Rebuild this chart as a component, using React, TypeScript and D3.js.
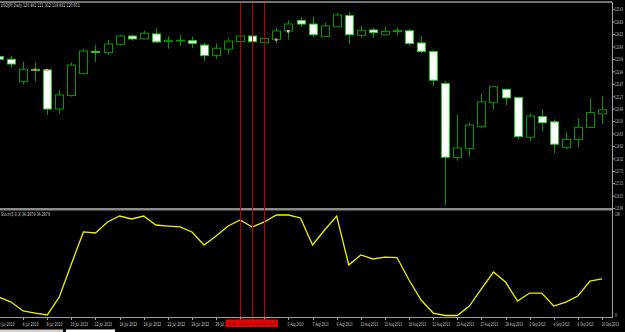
import React from 'react';
import * as d3 from 'd3';

const dates = [
  '2 Jul 2013', '3 Jul 2013', '4 Jul 2013', '5 Jul 2013', '8 Jul 2013', '9 Jul 2013', '10 Jul 2013',
  '11 Jul 2013', '12 Jul 2013', '15 Jul 2013', '16 Jul 2013', '17 Jul 2013', '18 Jul 2013', '19 Jul 2013',
  '22 Jul 2013', '23 Jul 2013', '24 Jul 2013', '25 Jul 2013', '26 Jul 2013', '29 Jul 2013', '30 Jul 2013',
  '31 Jul 2013', '1 Aug 2013', '2 Aug 2013', '5 Aug 2013', '6 Aug 2013', '7 Aug 2013', '8 Aug 2013',
  '9 Aug 2013', '12 Aug 2013', '13 Aug 2013', '14 Aug 2013', '15 Aug 2013', '16 Aug 2013', '19 Aug 2013',
  '20 Aug 2013', '21 Aug 2013', '22 Aug 2013', '23 Aug 2013', '26 Aug 2013', '27 Aug 2013', '28 Aug 2013',
  '29 Aug 2013', '30 Aug 2013', '2 Sep 2013', '3 Sep 2013', '4 Sep 2013', '5 Sep 2013', '6 Sep 2013',
  '9 Sep 2013', '10 Sep 2013',
];

const opens = [
  123.19, 123.05, 121.99, 122.57, 122.55, 120.69, 121.33, 122.37, 123.43, 123.37,
  123.75, 124.16, 124.02, 124.26, 123.90, 123.93, 123.94, 123.73, 123.23, 123.54,
  123.89, 124.16, 123.84, 124.00, 124.40, 124.90, 124.73, 124.13, 124.60, 125.13,
  124.19, 124.45, 124.22, 124.37, 124.41, 123.83, 123.42, 121.90, 118.38, 118.81,
  119.85, 120.99, 121.63, 121.23, 119.35, 120.33, 120.08, 118.87, 119.25, 119.82,
  120.46,
];
const highs = [
  123.26, 123.21, 122.94, 122.91, 122.57, 121.60, 122.91, 123.54, 123.73, 123.97,
  124.22, 124.22, 124.41, 124.54, 124.16, 124.21, 124.13, 123.84, 123.81, 124.05,
  124.21, 124.21, 124.10, 124.54, 124.92, 125.06, 125.08, 124.79, 125.24, 125.30,
  124.64, 124.56, 124.60, 124.56, 124.48, 124.16, 123.50, 122.02, 120.41, 120.04,
  121.41, 121.79, 121.64, 121.28, 120.49, 120.69, 120.17, 119.59, 120.25, 121.22,
  121.31,
];
const lows = [
  122.97, 122.64, 121.87, 121.99, 120.41, 120.46, 121.28, 122.37, 122.93, 123.26,
  123.70, 123.94, 124.00, 123.85, 123.56, 123.69, 123.58, 122.99, 123.07, 123.31,
  123.86, 123.86, 123.83, 123.81, 124.00, 124.59, 124.10, 124.13, 124.60, 123.78,
  124.08, 124.08, 124.22, 124.19, 123.70, 123.34, 121.80, 116.13, 118.24, 118.43,
  119.78, 120.65, 120.88, 119.25, 119.19, 119.62, 118.59, 118.79, 118.86, 119.82,
  119.98,
];
const closes = [
  123.05, 122.83, 122.58, 122.53, 120.69, 121.36, 122.78, 123.45, 123.38, 123.78,
  124.16, 124.02, 124.29, 123.88, 123.96, 123.96, 123.81, 123.23, 123.58, 123.92,
  124.16, 123.89, 124.05, 124.40, 124.73, 124.73, 124.22, 124.64, 125.16, 124.22,
  124.43, 124.32, 124.38, 124.42, 123.80, 123.42, 122.06, 118.40, 118.84, 119.93,
  121.03, 121.75, 121.22, 119.38, 120.36, 120.04, 119.02, 119.25, 119.82, 120.52,
  120.65,
];

const stochMain = [
  18.6, 13.7, 4.9, 2.9, 1.0, 18.6, 51.0, 82.4, 81.4, 92.2,
  98.0, 95.1, 98.0, 89.2, 88.2, 87.3, 82.4, 69.6, 78.4, 88.2,
  94.1, 87.3, 92.2, 99.0, 99.0, 96.1, 69.6, 84.3, 98.0, 50.0,
  59.8, 55.9, 57.8, 57.3, 35.3, 15.7, 2.9, 0.5, 0.5, 9.8,
  26.5, 43.1, 33.3, 14.7, 22.5, 22.5, 9.8, 13.7, 19.6, 34.3,
  36.3,
];

const priceTicks = [
  125.43, 124.83, 124.23, 123.64, 123.04, 122.46, 121.87, 121.27, 120.69,
  120.10, 119.50, 118.92, 118.32, 117.73, 117.15, 116.55, 115.96,
];
const stochTicks = ['100', '0'];

const vlineDates = ['30 Jul 2013', '31 Jul 2013', '1 Aug 2013'];
const vlineLabels = ['30 Jul 2013 00:00', '31 Jul 2013 00:00', '1 Aug 2013 00:00'];

const markerDates = ['5 Jul 2013', '8 Jul 2013', '2 Aug 2013', '5 Aug 2013'];
const markerPrices = [122.57, 122.55, 124.00, 124.40];
const markerColors = ['#ff6f8f', '#ffb060', '#ff7fa0', '#ffc0d0'];

const title = 'USDJPY,Daily  120.461 121.312 119.981 120.651';
const stochTitle = 'Stoch(5,3,3) 36.2879 36.2879';

const FONT = 'DejaVu Sans, sans-serif';

export default function App() {
  const W = 625;
  const H = 332;
  const axisX = 612;
  const x = d3.scalePoint<string>().domain(dates).range([-1, 602]);
  const y = d3.scaleLinear().domain([115.96, 125.43]).range([208.6, 9.3]);
  const ys = d3.scaleLinear().domain([0, 100]).range([316, 214]);

  const stochLine = d3
    .line<number>()
    .x((_, i) => x(dates[i]) as number)
    .y((d) => ys(d));

  const bodyW = 8;

  return (
    <svg
      width={W}
      height={H}
      style={{ position: 'absolute', left: 0, top: 0, background: '#000' }}
    >
      <defs>
        <clipPath id="mainClip">
          <rect x={0} y={3} width={axisX} height={205} />
        </clipPath>
        <clipPath id="subClip">
          <rect x={0} y={211} width={axisX} height={106} />
        </clipPath>
      </defs>
      <rect x={0} y={0} width={W} height={H} fill="#000" />

      {/* frame lines */}
      <line x1={0} x2={axisX} y1={2} y2={2} stroke="#9a9a9a" strokeWidth={1.5} />
      <rect x={0} y={208} width={axisX} height={2.5} fill="#8a8a8a" />
      <line x1={axisX + 0.5} x2={axisX + 0.5} y1={2} y2={318} stroke="#a0a0a0" strokeWidth={1} />
      <line x1={0} x2={axisX} y1={317.5} y2={317.5} stroke="#a0a0a0" strokeWidth={1} />

      {/* candles */}
      <g clipPath="url(#mainClip)">
        {dates.map((d, i) => {
          const cx = Math.round(x(d) as number) + 0.5;
          const o = opens[i];
          const c = closes[i];
          const bull = c >= o;
          const top = y(Math.max(o, c));
          const bot = y(Math.min(o, c));
          const h = Math.max(bot - top, 0.8);
          return (
            <g key={d}>
              <line x1={cx} x2={cx} y1={y(highs[i])} y2={y(lows[i])} stroke="#009a00" strokeWidth={1} />
              <rect
                x={cx - bodyW / 2}
                y={top}
                width={bodyW}
                height={h}
                fill={bull ? '#000' : '#ffffff'}
                stroke={bull ? '#009a00' : '#22cc22'}
                strokeWidth={1}
              />
            </g>
          );
        })}
        {markerDates.map((d, i) => (
          <rect
            key={'m' + i}
            x={(x(d) as number) - 1.5}
            y={y(markerPrices[i]) - 1}
            width={2.5}
            height={2.5}
            fill={markerColors[i]}
          />
        ))}
      </g>

      {/* stochastic */}
      <g clipPath="url(#subClip)">
        <path d={stochLine(stochMain) || ''} fill="none" stroke="#f2ee00" strokeWidth={1.3} />
      </g>

      {/* vertical lines */}
      {vlineDates.map((d) => {
        const vx = Math.round(x(d) as number) + 0.5;
        return <line key={'v' + d} x1={vx} x2={vx} y1={3} y2={317} stroke="#b80000" strokeWidth={1} />;
      })}

      {/* titles */}
      <text x={1} y={7} fontFamily={FONT} fontSize={5} fill="#d8d8d8" textLength={title.length * 1.75} lengthAdjust="spacingAndGlyphs">
        {title}
      </text>
      <text x={1} y={215.5} fontFamily={FONT} fontSize={5} fill="#d8d8d8" textLength={stochTitle.length * 1.75} lengthAdjust="spacingAndGlyphs">
        {stochTitle}
      </text>

      {/* price axis */}
      {priceTicks.map((p) => (
        <g key={'p' + p}>
          <line x1={axisX} x2={axisX + 3} y1={y(p)} y2={y(p)} stroke="#a0a0a0" strokeWidth={1} />
          <text x={615} y={y(p) + 1.8} fontFamily={FONT} fontSize={5} fill="#d8d8d8" textLength={8} lengthAdjust="spacingAndGlyphs">
            {p.toFixed(2)}
          </text>
        </g>
      ))}
      <text x={615} y={215.8} fontFamily={FONT} fontSize={5} fill="#d8d8d8" textLength={5} lengthAdjust="spacingAndGlyphs">
        {stochTicks[0]}
      </text>
      <text x={615} y={316.5} fontFamily={FONT} fontSize={5} fill="#d8d8d8" textLength={2} lengthAdjust="spacingAndGlyphs">
        {stochTicks[1]}
      </text>

      {/* time axis */}
      {dates.map((d, i) => {
        if (i % 2 !== 0) return null;
        const tx = Math.round(x(d) as number) + 0.5;
        const hidden = vlineDates.indexOf(d) >= 0;
        return (
          <g key={'t' + d}>
            <line x1={tx} x2={tx} y1={317.5} y2={320} stroke="#a0a0a0" strokeWidth={1} />
            {!hidden && (
              <text x={tx - 1} y={325.5} fontFamily={FONT} fontSize={5} fill="#d8d8d8" textLength={d.length * 1.6} lengthAdjust="spacingAndGlyphs">
                {d}
              </text>
            )}
          </g>
        );
      })}

      {/* vertical line labels on time axis */}
      {vlineDates.map((d, i) => {
        const vx = x(d) as number;
        const wL = vlineLabels[i].length * 1.6;
        return (
          <g key={'vl' + d}>
            <rect x={vx - wL / 2 - 1} y={319.5} width={wL + 2} height={7.5} fill="#ee0000" />
            <text x={vx - wL / 2} y={325.3} fontFamily={FONT} fontSize={5} fill="#5a0000" textLength={wL} lengthAdjust="spacingAndGlyphs">
              {vlineLabels[i]}
            </text>
          </g>
        );
      })}

      {/* bottom tabs */}
      <rect x={0} y={329.5} width={63} height={3} fill="#d4d0c8" />
      <rect x={66} y={329.5} width={49} height={3} fill="#ffffff" />
    </svg>
  );
}
